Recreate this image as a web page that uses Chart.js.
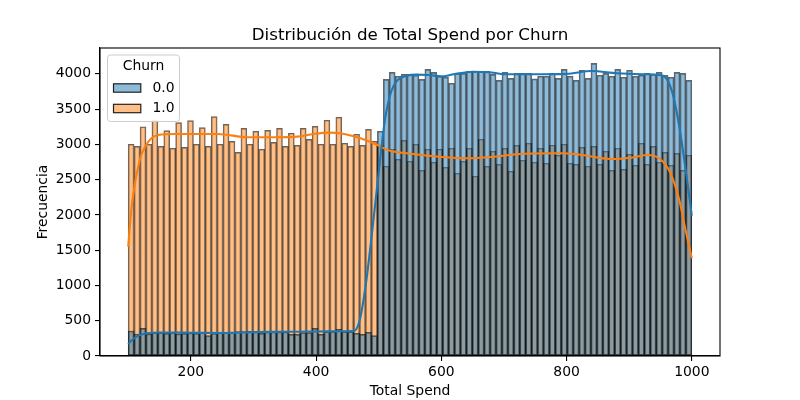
<!DOCTYPE html>
<html>
<head>
<meta charset="utf-8">
<script src="https://cdn.jsdelivr.net/npm/chart.js@4.4.0/dist/chart.umd.min.js"></script>
<style>
  html, body { margin: 0; padding: 0; background: #fff; }
</style>
</head>
<body>
<canvas id="spendChart" width="800" height="400"></canvas>
<script>
// histogram range (95 equal bins between these edges)
const binRange = [100, 1000];

// counts per bin, Churn = 0.0
const churn0 = [
  354, 312, 392, 312, 331, 331, 321, 331, 312, 321, 326, 321, 331, 288, 321, 331,
  331, 340, 345, 345, 350, 340, 321, 340, 340, 340, 340, 307, 307, 331, 331, 392,
  307, 345, 345, 378, 345, 345, 321, 307, 335, 288, 3186,
  3923, 4022, 3966, 3994, 3994, 3980, 3923, 4065, 4022, 3966, 3952, 3867, 4008, 4008,
  4037, 4037, 4037, 4037, 3994, 3909, 4022, 3937, 4008, 4008, 4008, 3930,
  3966, 3966, 4008, 3937, 4065, 3966, 3909, 4051, 3937, 4150, 3980, 4008, 3966, 4065,
  3952, 4051, 3966, 3980, 4008, 3994, 4022, 3980, 3952, 4022, 4008, 3909
];

// counts per bin, Churn = 1.0
const churn1 = [
  3002, 2973, 3251, 3002, 3337, 2973, 3195, 2945, 3308, 2959, 3337, 3002, 3237, 2973, 3393, 3002,
  3285, 3044, 2888, 3228, 3002, 3186, 2931, 3200, 3030, 3228, 2973, 3158, 2987, 3228, 3072, 3256,
  3002, 3342, 3002, 3385, 3016, 2973, 3144, 2987, 3214, 3044, 2990,
  2690, 2931, 2789, 3058, 2761, 3002, 2633, 2931, 2747, 2931, 2676, 2945, 2591, 2761,
  2945, 2548, 3073, 2690, 2903, 2718, 2945, 2619, 2988, 2775, 3016, 2747,
  2945, 2733, 2988, 2846, 3002, 2733, 2718, 2959, 2690, 2973, 2718, 2903, 2633, 2945,
  2647, 2860, 2704, 3016, 2718, 2973, 2747, 2888, 2704, 2874, 2633, 2846
];

// kde curves
const kde0X = [100, 105, 110, 120, 130, 150, 200, 250, 300, 350, 400, 440, 455, 462, 470, 480, 490, 500, 510, 520,
  530, 545, 560, 580, 600, 620, 650, 680, 700, 720, 760, 800, 840, 880, 920, 950, 960, 970, 980, 990, 1000];
const kde0Y = [170, 215, 255, 300, 322, 333, 330, 326, 338, 343, 348, 350, 352, 360, 520, 1050, 1800, 2600, 3350, 3750,
  3910, 3975, 3990, 3985, 3965, 3995, 4030, 4020, 3995, 3995, 3995, 4000, 4040, 4010, 3995, 3980, 3930, 3700, 3250, 2650, 1990];
const kde1X = [100, 105, 110, 116, 121, 127, 137, 148, 175, 243, 291, 339, 370, 396, 420, 445, 471, 498, 514, 545,
  600, 640, 680, 720, 790, 825, 870, 903, 930, 948, 962, 973, 980, 990, 1000];
const kde1Y = [1550, 2070, 2400, 2685, 2850, 2968, 3087, 3134, 3148, 3148, 3101, 3101, 3110, 3148, 3167, 3148, 3087, 2992, 2921, 2874,
  2822, 2803, 2822, 2860, 2874, 2850, 2793, 2812, 2850, 2803, 2661, 2425, 2212, 1787, 1385];

const xTicks = [200, 400, 600, 800, 1000];
const yTicks = [0, 500, 1000, 1500, 2000, 2500, 3000, 3500, 4000];
const legendLabels = ["0.0", "1.0"];

const BLUE = "#1f77b4";
const ORANGE = "#ff7f0e";
const BLUE_FILL = "rgba(31,119,180,0.5)";
const ORANGE_FILL = "rgba(255,127,14,0.5)";
const EDGE = "rgba(0,0,0,0.6)";
const FONT = "'DejaVu Sans', sans-serif";

const binWidth = (binRange[1] - binRange[0]) / churn0.length;
const binCenters = churn0.map((_, i) => binRange[0] + (i + 0.5) * binWidth);

function toPoints(xs, ys) {
  return xs.map((x, i) => ({ x: x, y: ys[i] }));
}

// matplotlib-ish extras: full frame, title, axis labels, legend
const mplDecor = {
  id: "mplDecor",
  afterDraw(chart) {
    const ctx = chart.ctx;
    const a = chart.chartArea;
    ctx.save();

    ctx.strokeStyle = "#000";
    ctx.lineWidth = 1.1;
    ctx.strokeRect(a.left, a.top, a.right - a.left, a.bottom - a.top);

    ctx.fillStyle = "#000";
    ctx.font = "16.7px " + FONT;
    ctx.textAlign = "center";
    ctx.textBaseline = "alphabetic";
    ctx.fillText("Distribución de Total Spend por Churn", (a.left + a.right) / 2, 40);

    ctx.font = "13.9px " + FONT;
    ctx.textBaseline = "middle";
    ctx.fillText("Total Spend", (a.left + a.right) / 2, 391);

    ctx.save();
    ctx.translate(43, (a.top + a.bottom) / 2);
    ctx.rotate(-Math.PI / 2);
    ctx.fillText("Frecuencia", 0, 0);
    ctx.restore();

    // legend box
    const lx = 107.5, ly = 55, lw = 72, lh = 66.5, r = 3;
    ctx.beginPath();
    ctx.moveTo(lx + r, ly);
    ctx.arcTo(lx + lw, ly, lx + lw, ly + lh, r);
    ctx.arcTo(lx + lw, ly + lh, lx, ly + lh, r);
    ctx.arcTo(lx, ly + lh, lx, ly, r);
    ctx.arcTo(lx, ly, lx + lw, ly, r);
    ctx.closePath();
    ctx.fillStyle = "rgba(255,255,255,0.8)";
    ctx.fill();
    ctx.strokeStyle = "#cccccc";
    ctx.lineWidth = 1;
    ctx.stroke();

    ctx.fillStyle = "#000";
    ctx.textAlign = "center";
    ctx.fillText("Churn", lx + lw / 2, 66.5);

    const fills = [BLUE_FILL, ORANGE_FILL];
    const rowY = [88, 108.5];
    legendLabels.forEach((lab, i) => {
      ctx.fillStyle = fills[i];
      ctx.fillRect(113.5, rowY[i] - 4.2, 27.3, 8.4);
      ctx.strokeStyle = "rgba(0,0,0,0.85)";
      ctx.lineWidth = 1.2;
      ctx.strokeRect(113.5, rowY[i] - 4.2, 27.3, 8.4);
      ctx.fillStyle = "#000";
      ctx.textAlign = "left";
      ctx.fillText(lab, 152.5, rowY[i]);
    });

    ctx.restore();
  }
};

function buildChart() {
  Chart.defaults.font.family = FONT;
  Chart.defaults.font.size = 13.9;
  Chart.defaults.color = "#000";

  const axisGrid = {
    display: true,
    drawOnChartArea: false,
    drawTicks: true,
    tickLength: 5,
    color: "#000",
    lineWidth: 1.1,
    offset: false
  };

  const data = {
    datasets: [
      {
        type: "line",
        label: "kde 0.0",
        data: toPoints(kde0X, kde0Y),
        borderColor: BLUE,
        borderWidth: 2.1,
        pointRadius: 0,
        cubicInterpolationMode: "monotone",
        order: 0
      },
      {
        type: "line",
        label: "kde 1.0",
        data: toPoints(kde1X, kde1Y),
        borderColor: ORANGE,
        borderWidth: 2.1,
        pointRadius: 0,
        cubicInterpolationMode: "monotone",
        order: 0
      },
      {
        type: "bar",
        label: "0.0",
        data: toPoints(binCenters, churn0),
        backgroundColor: BLUE_FILL,
        borderColor: EDGE,
        borderWidth: 1,
        borderSkipped: false,
        grouped: false,
        barPercentage: 1,
        categoryPercentage: 1,
        order: 1
      },
      {
        type: "bar",
        label: "1.0",
        data: toPoints(binCenters, churn1),
        backgroundColor: ORANGE_FILL,
        borderColor: EDGE,
        borderWidth: 1,
        borderSkipped: false,
        grouped: false,
        barPercentage: 1,
        categoryPercentage: 1,
        order: 2
      }
    ]
  };

  const config = {
    type: "bar",
    data: data,
    options: {
      responsive: false,
      animation: false,
      devicePixelRatio: 1,
      layout: { padding: { top: 48, right: 80, left: 0, bottom: 0 } },
      plugins: {
        legend: { display: false },
        title: { display: false },
        tooltip: { enabled: false }
      },
      scales: {
        x: {
          type: "linear",
          min: 55,
          max: 1045,
          offset: false,
          grid: axisGrid,
          border: { display: true, color: "#000", width: 1.1 },
          ticks: { padding: 3, maxRotation: 0, autoSkip: false, callback: v => String(v) },
          afterBuildTicks: s => { s.ticks = xTicks.map(v => ({ value: v })); },
          afterFit: s => { s.height = 44; }
        },
        y: {
          type: "linear",
          min: 0,
          max: 4367,
          grid: axisGrid,
          border: { display: true, color: "#000", width: 1.1 },
          ticks: { padding: 4, autoSkip: false, callback: v => String(v) },
          afterBuildTicks: s => { s.ticks = yTicks.map(v => ({ value: v })); },
          afterFit: s => { s.width = 100; }
        }
      }
    },
    plugins: [mplDecor]
  };

  const ctx = document.getElementById("spendChart").getContext("2d");
  new Chart(ctx, config);
}

document.addEventListener("DOMContentLoaded", buildChart);
</script>
</body>
</html>
